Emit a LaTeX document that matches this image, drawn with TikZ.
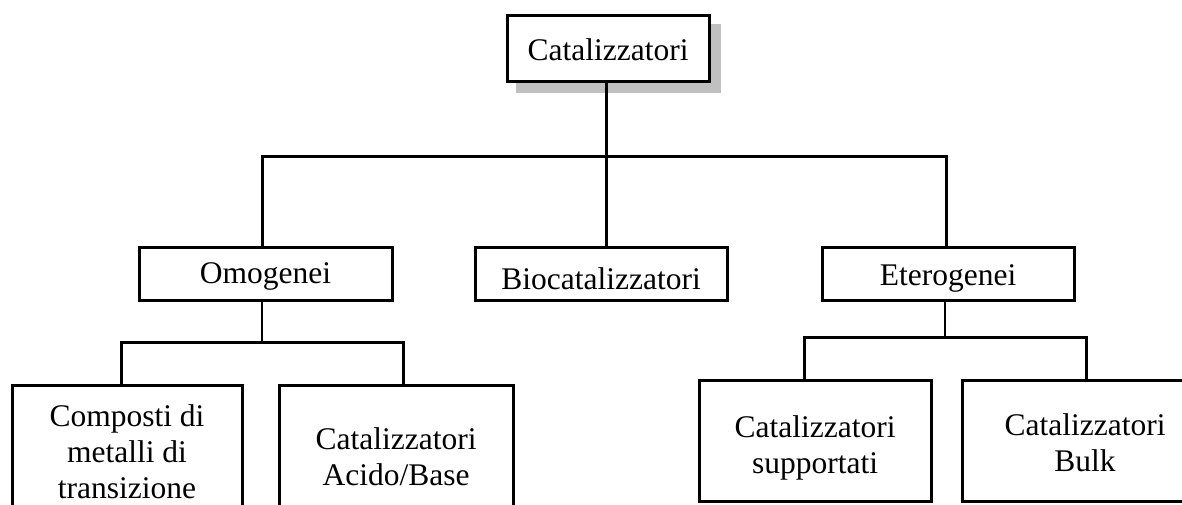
\documentclass[tikz,border=0pt]{standalone}
\usepackage{fontspec}
\setmainfont{Liberation Serif}
\usetikzlibrary{backgrounds}
\definecolor{shadowgray}{RGB}{192,192,192}
\newcommand\boxfont{\fontsize{31.5}{36}\selectfont}
\newcommand\lift[1]{\rule{0pt}{#1}}
\tikzset{
  box/.style={draw, fill=white, line width=3pt, inner sep=0pt, align=center, font=\boxfont},
  conn/.style={line width=3pt, line join=miter},
  subconn/.style={line width=2.6pt, line join=miter}
}
\begin{document}
\begin{tikzpicture}[x=1pt,y=-1pt]
\useasboundingbox (0,0) rectangle (1182,504);
\clip (0,0) rectangle (1182,504);
% nodes
\node[box, minimum width=202pt, minimum height=66pt, text height=24pt, text depth=0pt] (top) at (608,48) {Catalizzatori};
\node[box, minimum width=253pt, minimum height=53pt, text height=19pt, text depth=0pt] (omo) at (265.5,273.5) {Omogenei};
\node[box, minimum width=252pt, minimum height=53pt, text height=31pt, text depth=0pt] (bio) at (601,273.5) {Biocatalizzatori};
\node[box, minimum width=252pt, minimum height=53pt, text height=23pt, text depth=0pt] (ete) at (948,273.5) {Eterogenei};
\node[box, minimum width=230pt, minimum height=134pt] (comp) at (127,452) {Composti di\\metalli di\\transizione};
\node[box, minimum width=234pt, minimum height=144pt] (acid) at (396,457) {Catalizzatori\\Acido/Base};
\node[box, minimum width=232pt, minimum height=121pt] (sup) at (815,440.5) {\lift{37pt}Catalizzatori\\supportati};
\node[box, minimum width=246pt, minimum height=121pt] (bulk) at (1085,440.5) {\lift{27pt}Catalizzatori\\Bulk};
% shadow
\begin{scope}[on background layer]
\fill[white] (0,0) rectangle (1182,504);
\fill[shadowgray] ([shift={(10,10)}]top.south west) rectangle ([shift={(10,10)}]top.north east);
\end{scope}
% helper coordinates
\coordinate (bar) at (0,156);
\coordinate (xL) at (262,0);
\coordinate (xM) at (606,0);
\coordinate (xR) at (946,0);
\coordinate (barO) at (0,342);
\coordinate (xOc) at (262,0);
\coordinate (xO1) at (121,0);
\coordinate (xO2) at (403,0);
\coordinate (barE) at (0,337);
\coordinate (xEc) at (945,0);
\coordinate (xE1) at (804,0);
\coordinate (xE2) at (1086,0);
% main tree
\draw[conn] (top.south -| xM) -- (bar -| xM);
\draw[conn] (omo.north -| xL) -- (bar -| xL) -- (bar -| xR) -- (ete.north -| xR);
\draw[conn] (bar -| xM) -- (bio.north -| xM);
% Omogenei subtree
\draw[subconn] (omo.south -| xOc) -- (barO -| xOc);
\draw[conn] (comp.north -| xO1) -- (barO -| xO1) -- (barO -| xO2) -- (acid.north -| xO2);
% Eterogenei subtree
\draw[subconn] (ete.south -| xEc) -- (barE -| xEc);
\draw[conn] (sup.north -| xE1) -- (barE -| xE1) -- (barE -| xE2) -- (bulk.north -| xE2);
\end{tikzpicture}
\end{document}
